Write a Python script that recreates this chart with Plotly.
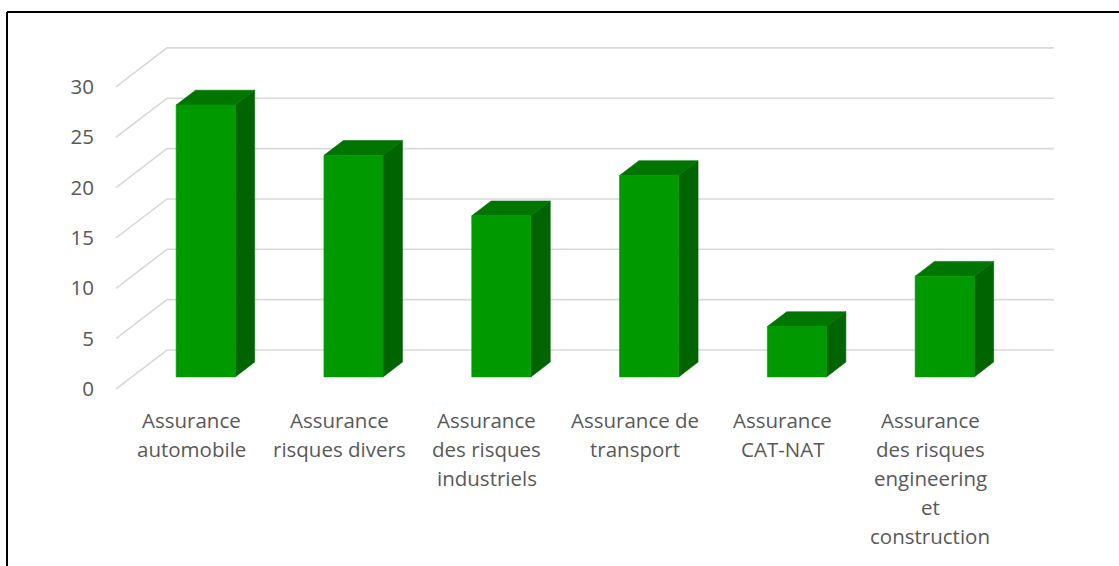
import plotly.graph_objects as go

# Chart data
categories = [
    "Assurance automobile",
    "Assurance risques divers",
    "Assurance des risques industriels",
    "Assurance de transport",
    "Assurance CAT-NAT",
    "Assurance des risques engineering et construction",
]
label_lines = [
    ["Assurance", "automobile"],
    ["Assurance", "risques divers"],
    ["Assurance", "des risques", "industriels"],
    ["Assurance de", "transport"],
    ["Assurance", "CAT-NAT"],
    ["Assurance", "des risques", "engineering", "et", "construction"],
]
values = [27, 22, 16, 20, 5, 10]
y_ticks = [0, 5, 10, 15, 20, 25, 30]

# Figure geometry (pixels)
W, H = 1119, 566
PX_PER_CAT = 147.8          # horizontal pixels per category
PX_PER_UNIT = 10.07         # vertical pixels per value unit
X0_PX, Y0_PX = 116, 389     # front-left corner of the floor
DEPTH_DX, DEPTH_DY = 51, 39 # oblique depth offset in pixels

# depth offset expressed in data units
SX = DEPTH_DX / PX_PER_CAT
SY = DEPTH_DY / PX_PER_UNIT

# plot area in pixels
PL, PR, PT, PB = 114, 1058, 44, 392
x_range = [(PL - X0_PX) / PX_PER_CAT, (PR - X0_PX) / PX_PER_CAT]
y_range = [(Y0_PX - PB) / PX_PER_UNIT, (Y0_PX - PT) / PX_PER_UNIT]

GRID = "#d9d9d9"
TEXT = "#595959"
FRONT, TOP, SIDE = "#009900", "#007500", "#006400"
FONT = "Open Sans"
FONT_SIZE = 20.5

fig = go.Figure()

# gridlines: front diagonal + back wall line for each tick
for v in y_ticks:
    fig.add_trace(go.Scatter(
        x=[0, SX, len(categories) + SX],
        y=[v, v + SY, v + SY],
        mode="lines", line=dict(color=GRID, width=1.6),
        hoverinfo="skip", showlegend=False,
    ))

# 3D bars: side, top and front faces
D0, D1 = 0.31, 0.69   # depth span of a bar
B0, B1 = 0.30, 0.70   # width span within a category


def face(xs, ys, color):
    fig.add_trace(go.Scatter(
        x=xs + [xs[0]], y=ys + [ys[0]], mode="lines", fill="toself",
        fillcolor=color, line=dict(color=color, width=0.6),
        hoverinfo="skip", showlegend=False,
    ))


for i, val in enumerate(values):
    xl_f, xr_f = i + B0 + SX * D0, i + B1 + SX * D0
    xl_b, xr_b = i + B0 + SX * D1, i + B1 + SX * D1
    yb_f, yt_f = SY * D0, val + SY * D0
    yb_b, yt_b = SY * D1, val + SY * D1
    face([xr_f, xr_b, xr_b, xr_f], [yb_f, yb_b, yt_b, yt_f], SIDE)
    face([xl_f, xr_f, xr_b, xl_b], [yt_f, yt_f, yt_b, yt_b], TOP)
    face([xl_f, xr_f, xr_f, xl_f], [yb_f, yb_f, yt_f, yt_f], FRONT)

pw, ph = PR - PL, PB - PT


def px_to_paper_x(px):
    return (px - PL) / pw


def px_to_paper_y(py):
    return (PB - py) / ph


# category labels, one annotation per line
LINE1_PX, LINE_STEP_PX = 420, 29
for i, lines in enumerate(label_lines):
    for k, line in enumerate(lines):
        py = LINE1_PX + k * LINE_STEP_PX
        fig.add_annotation(
            x=i + 0.51, y=px_to_paper_y(py), xref="x", yref="paper",
            text=line, showarrow=False, xanchor="center", yanchor="middle",
            font=dict(family=FONT, size=FONT_SIZE, color=TEXT),
        )

# frame lines on the left and top edges
fig.add_shape(type="line", xref="paper", yref="paper",
              x0=px_to_paper_x(7), x1=px_to_paper_x(W + 5),
              y0=px_to_paper_y(12), y1=px_to_paper_y(12),
              line=dict(color="black", width=2))
fig.add_shape(type="line", xref="paper", yref="paper",
              x0=px_to_paper_x(7), x1=px_to_paper_x(7),
              y0=px_to_paper_y(12), y1=px_to_paper_y(H + 5),
              line=dict(color="black", width=2))

fig.update_layout(
    width=W, height=H,
    margin=dict(l=PL, r=W - PR, t=PT, b=H - PB, pad=0),
    paper_bgcolor="white", plot_bgcolor="white",
    showlegend=False,
    xaxis=dict(range=x_range, showgrid=False, zeroline=False,
               showticklabels=False, showline=False, fixedrange=True),
    yaxis=dict(range=y_range, showgrid=False, zeroline=False,
               showline=False, tickvals=y_ticks,
               ticktext=[str(t) for t in y_ticks],
               tickfont=dict(family=FONT, size=FONT_SIZE, color=TEXT),
               ticks="", ticklabelstandoff=19, fixedrange=True),
)

fig.write_html("out.html")
